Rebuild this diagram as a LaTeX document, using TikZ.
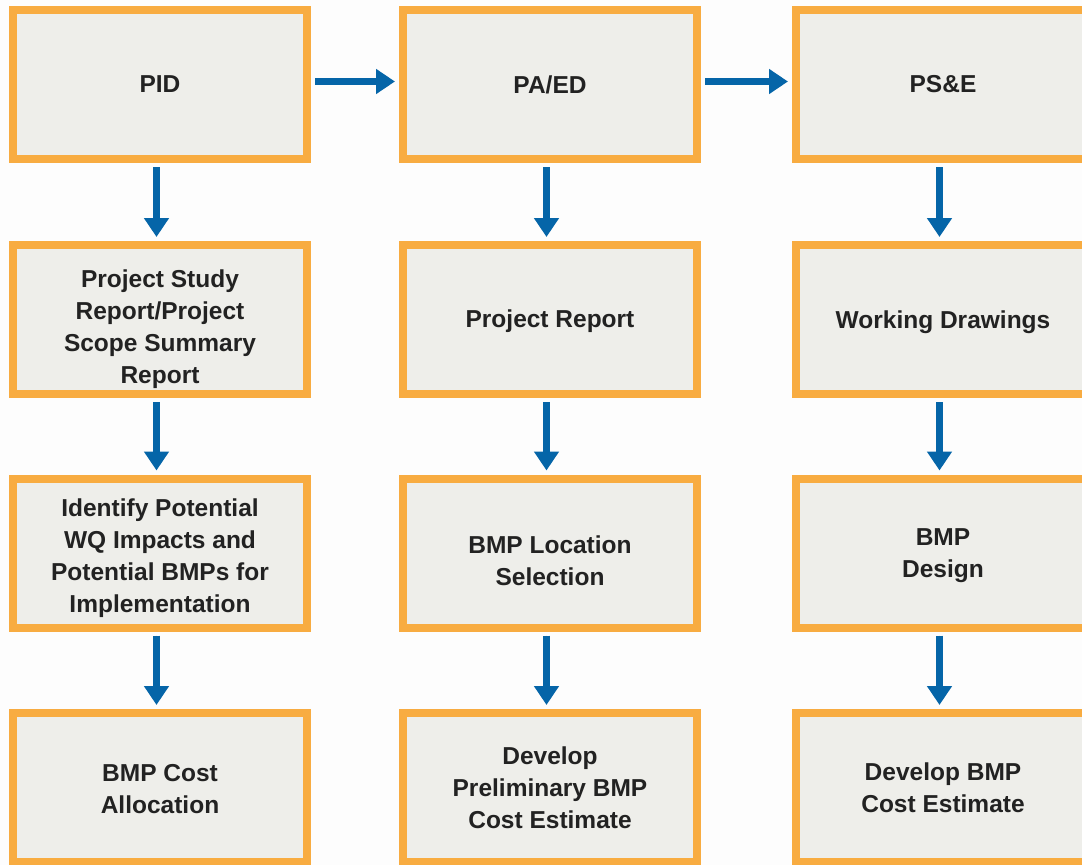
\documentclass[tikz,border=0pt]{standalone}
\usepackage{fontspec}
\setmainfont{Liberation Sans}
\usetikzlibrary{arrows.meta}
\definecolor{boxorange}{HTML}{F8AC41}
\definecolor{boxfill}{HTML}{EEEEEA}
\definecolor{arrowblue}{HTML}{0565A8}
\definecolor{textdark}{HTML}{222222}
\definecolor{bgcol}{HTML}{FDFDFD}
\tikzset{
  stepbox/.style={draw=boxorange, fill=boxfill, line width=8pt, rectangle,
    minimum width=294pt, minimum height=149pt, inner sep=0pt},
  steptext/.style={align=center, text=textdark, inner sep=0pt,
    font=\fontsize{24.5}{32}\selectfont\bfseries},
  flow/.style={draw=arrowblue, line width=7pt,
    -{Triangle[width=24pt,length=19pt]}, fill=arrowblue}
}
\begin{document}
\begin{tikzpicture}[x=1pt,y=-1pt]
\clip (0,0) rectangle (1082,865);
\fill[bgcol] (0,0) rectangle (1082,865);
% boxes
\node[stepbox] (pid) at (160,84.5) {};
\node[stepbox] (paed) at (550,84.5) {};
\node[stepbox] (pse) at (943,84.5) {};
\node[stepbox] (psr) at (160,319.5) {};
\node[stepbox] (pr) at (550,319.5) {};
\node[stepbox] (wd) at (943,319.5) {};
\node[stepbox] (iwq) at (160,553) {};
\node[stepbox] (bls) at (550,553) {};
\node[stepbox] (bd) at (943,553) {};
\node[stepbox] (bca) at (160,787.5) {};
\node[stepbox] (dpb) at (550,787.5) {};
\node[stepbox] (dbc) at (943,787.5) {};
% texts
\node[steptext] (t-pid) at ([yshift=0pt]pid.center) {PID};
\node[steptext] (t-paed) at ([yshift=0pt]paed.center) {PA/ED};
\node[steptext] (t-pse) at ([yshift=0pt]pse.center) {PS\&E};
\node[steptext] (t-psr) at ([yshift=-10pt]psr.center) {Project Study\\Report/Project\\Scope Summary\\Report};
\node[steptext] (t-pr) at ([yshift=-2pt]pr.center) {Project Report};
\node[steptext] (t-wd) at ([yshift=-3pt]wd.center) {Working Drawings};
\node[steptext] (t-iwq) at ([yshift=-5pt]iwq.center) {Identify Potential\\WQ Impacts and\\Potential BMPs for\\Implementation};
\node[steptext] (t-bls) at ([yshift=-8pt]bls.center) {BMP Location\\Selection};
\node[steptext] (t-bd) at ([yshift=-3pt]bd.center) {BMP\\Design};
\node[steptext] (t-bca) at ([yshift=-2pt]bca.center) {BMP Cost\\Allocation};
\node[steptext] (t-dpb) at ([yshift=0pt]dpb.center) {Develop\\Preliminary BMP\\Cost Estimate};
\node[steptext] (t-dbc) at ([yshift=0pt]dbc.center) {Develop BMP\\Cost Estimate};
% horizontal arrows
\draw[flow, shorten <=4pt, shorten >=4pt] ([yshift=3pt]pid.east) -- ([yshift=3pt]paed.west);
\draw[flow, shorten <=4pt, shorten >=4pt] ([yshift=3pt]paed.east) -- ([yshift=3pt]pse.west);
% vertical arrows
\foreach \a/\b in {pid/psr, psr/iwq, iwq/bca, paed/pr, pr/bls, bls/dpb, pse/wd, wd/bd, bd/dbc}{
  \draw[flow, shorten <=4pt, shorten >=4pt] ([xshift=-3.5pt]\a.south) -- ([xshift=-3.5pt]\b.north);
}
\end{tikzpicture}
\end{document}
